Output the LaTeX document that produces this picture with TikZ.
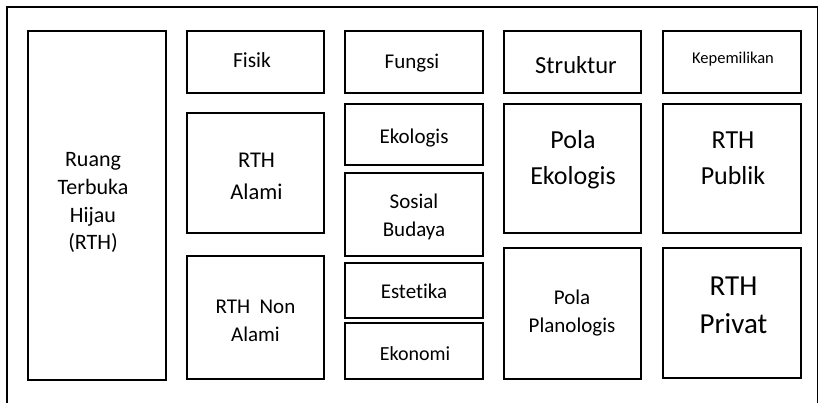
\documentclass[tikz,border=0pt]{standalone}
\usepackage{fontspec}
\setmainfont[Ligatures=NoCommon]{Carlito}
\newcommand\fsz[2]{\fontsize{#1}{#2}\selectfont}
\newcommand\mlines[1]{\begin{tabular}[t]{@{}c@{}}#1\end{tabular}}
\begin{document}
\begin{tikzpicture}[x=1pt,y=-1pt,
  box/.style={draw=black, line width=2.4pt, inner sep=0pt},
  lbl/.style={inner sep=0pt, anchor=base, text=black},
  frameline/.style={draw=black, line width=1.6pt}]
\useasboundingbox (0,0) rectangle (819,403);
% outer frame (bottom edge cut off)
\coordinate (fbl) at (6.7,406);
\coordinate (ftl) at (6.7,7);
\coordinate (ftr) at (817.3,7);
\coordinate (fbr) at (817.3,406);
\draw[frameline] (fbl) -- (ftl) -- (ftr) -- (fbr);

% column 1
\node[box, minimum width=138pt, minimum height=349pt] (rth) at (97,205.5) {};
\node[lbl, font=\fsz{22}{27.7}] (rth-t) at (93,166.7) {\mlines{Ruang\\Terbuka\\Hijau\\(RTH)}};

% column 2
\node[box, minimum width=137pt, minimum height=62pt] (fisik) at (255.5,62) {};
\node[lbl, font=\fsz{21.5}{28}] (fisik-t) at (252,68) {Fisik};
\node[box, minimum width=137pt, minimum height=120pt] (alami) at (255.5,173) {};
\node[lbl, font=\fsz{22.5}{32}] (alami-t) at (256.5,168) {\mlines{RTH\\Alami}};
\node[box, minimum width=137pt, minimum height=123pt] (nonalami) at (255.5,317.5) {};
\node[lbl, font=\fsz{21}{28.4}] (nonalami-t) at (255.5,313.3) {\mlines{RTH\ \ Non\\Alami}};

% column 3
\node[box, minimum width=138pt, minimum height=62pt] (fungsi) at (414,62) {};
\node[lbl, font=\fsz{21}{28}] (fungsi-t) at (412,68.3) {Fungsi};
\node[box, minimum width=138pt, minimum height=61pt] (ekologis) at (414,134.5) {};
\node[lbl, font=\fsz{21}{28}] (ekologis-t) at (414,144) {Ekologis};
\node[box, minimum width=138pt, minimum height=83pt] (sosial) at (414,214.5) {};
\node[lbl, font=\fsz{21}{28.4}] (sosial-t) at (414,208.3) {\mlines{Sosial\\Budaya}};
\node[box, minimum width=138pt, minimum height=55pt] (estetika) at (414,290.5) {};
\node[lbl, font=\fsz{21}{28}] (estetika-t) at (414,298.3) {Estetika};
\node[box, minimum width=138pt, minimum height=56pt] (ekonomi) at (414,351) {};
\node[lbl, font=\fsz{20}{26}] (ekonomi-t) at (415,360.5) {Ekonomi};

% column 4
\node[box, minimum width=137pt, minimum height=62pt] (struktur) at (572.5,62) {};
\node[lbl, font=\fsz{24.5}{30}] (struktur-t) at (576,73.5) {Struktur};
\node[box, minimum width=137pt, minimum height=129pt] (polaeko) at (572.5,168.5) {};
\node[lbl, font=\fsz{26}{36}] (polaeko-t) at (573,149) {\mlines{Pola\\Ekologis}};
\node[box, minimum width=137pt, minimum height=131pt] (polaplan) at (572.5,313.5) {};
\node[lbl, font=\fsz{21}{28.3}] (polaplan-t) at (572,304.3) {\mlines{Pola\\Planologis}};

% column 5
\node[box, minimum width=138pt, minimum height=62pt] (kepemilikan) at (732,62) {};
\node[lbl, font=\fsz{16.5}{20}] (kepemilikan-t) at (733,63.3) {Kepemilikan};
\node[box, minimum width=138pt, minimum height=129pt] (publik) at (732,168.5) {};
\node[lbl, font=\fsz{26}{36}] (publik-t) at (733,149) {\mlines{RTH\\Publik}};
\node[box, minimum width=138pt, minimum height=130pt] (privat) at (732,313) {};
\node[lbl, font=\fsz{29}{38.3}] (privat-t) at (733.5,295) {\mlines{RTH\\Privat}};
\end{tikzpicture}
\end{document}
